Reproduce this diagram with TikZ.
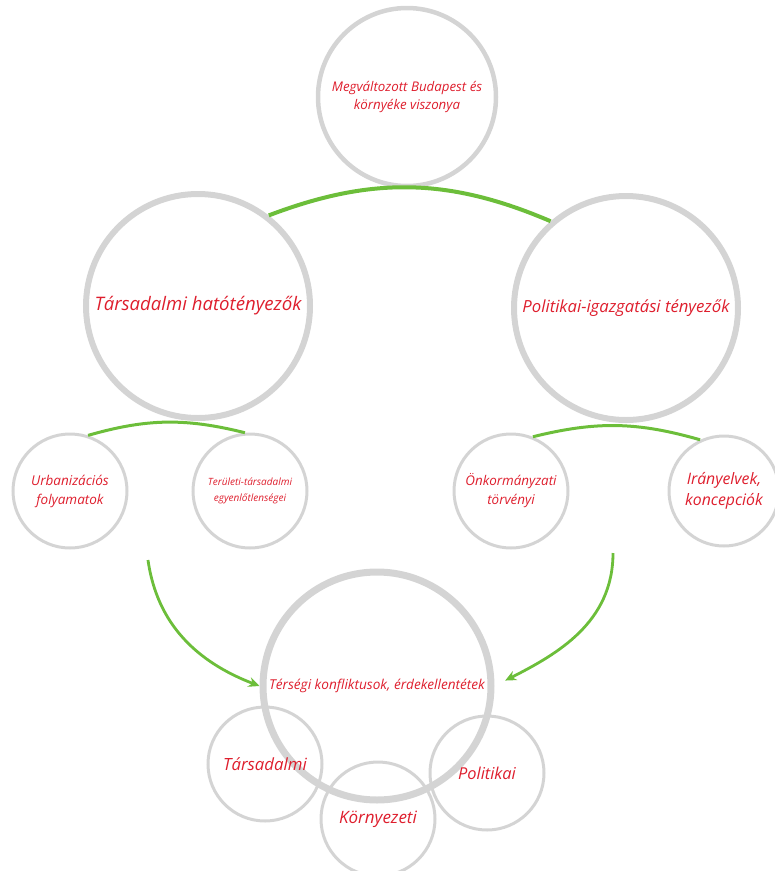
\documentclass[tikz,border=0pt]{standalone}
\usepackage{fontspec}
\setmainfont{Open Sans}
\usetikzlibrary{arrows.meta}
\definecolor{ringgray}{RGB}{212,212,212}
\definecolor{linkgreen}{RGB}{108,190,58}
\definecolor{labelred}{RGB}{222,30,45}

\begin{document}
\begin{tikzpicture}[x=1pt, y=1pt,
  ring/.style={circle, draw=ringgray, inner sep=0pt, align=center, text=labelred},
  bigring/.style={ring, line width=6pt, minimum size=224pt},
  smallring/.style={ring, line width=3pt, minimum size=114pt},
  link/.style={draw=linkgreen, line width=4pt},
  arrow/.style={draw=linkgreen, line width=2.8pt, -{Stealth[length=11pt,width=10pt]}}
]
\useasboundingbox (0,0) rectangle (775,-871);

% upper level
\node (budapest) [ring, line width=4.5pt, minimum size=178pt, font=\itshape\fontsize{13.3}{18.5}\selectfont] at (407,-97) {Megváltozott Budapest és\\környéke viszonya};
\node (tarsh) [bigring, font=\itshape\fontsize{18.6}{22}\selectfont] at (198,-306) {Társadalmi hatótényezők};
\node (polig) [bigring, font=\itshape\fontsize{16.7}{20}\selectfont] at (626,-308) {Politikai-igazgatási tényezők};

% factors
\node (urb) [smallring, font=\itshape\fontsize{13.5}{19}\selectfont] at (70,-491) {Urbanizációs\\folyamatok};
\node (terul) [smallring, font=\itshape\fontsize{10}{16}\selectfont] at (250,-491) {Területi-társadalmi\\egyenlőtlenségei};
\node (onk) [smallring, font=\itshape\fontsize{13.4}{19}\selectfont] at (511,-491) {Önkormányzati\\törvényi};
\node (iranyv) [smallring, minimum size=110pt, font=\itshape\fontsize{15.8}{21}\selectfont] at (724,-491) {Irányelvek,\\koncepciók};

% conflicts
\node (terseg) [bigring, line width=7pt, minimum size=228pt, font=\itshape\fontsize{13.6}{16}\selectfont] at (377,-686) {Térségi konfliktusok, érdekellentétek};
\node (tarsb) [smallring, font=\itshape\fontsize{16.8}{20}\selectfont] at (265,-764) {Társadalmi};
\node (korny) [smallring, font=\itshape\fontsize{17}{20}\selectfont] at (378,-819) {Környezeti};
\node (polb) [smallring, font=\itshape\fontsize{16.4}{20}\selectfont] at (487,-773) {Politikai};

\coordinate (leftstart) at (148,-560);
\coordinate (rightstart) at (613,-553);

\draw [link] (tarsh.52) to[bend left=22] (polig.131);
\draw [link, line width=3pt] (urb.72) to[bend left=15] (terul.95);
\draw [link, line width=3pt] (onk.68) to[bend left=15] (iranyv.115);
\draw [arrow] (leftstart) to[out=-82, in=159] (terseg.west);
\draw [arrow, shorten >=12pt] (rightstart) to[out=-90, in=27] (terseg.east);

\end{tikzpicture}
\end{document}
